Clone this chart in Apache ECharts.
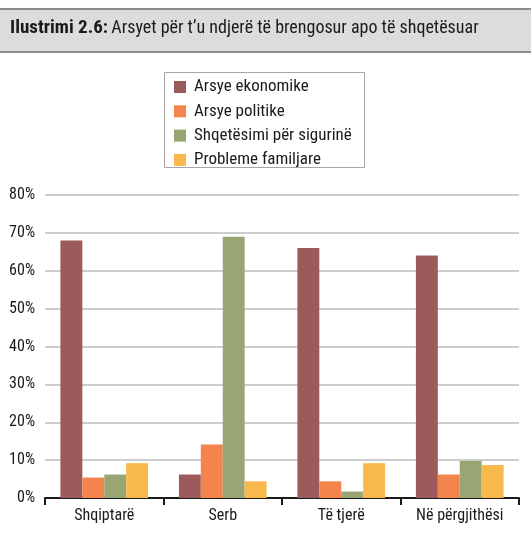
<!DOCTYPE html>
<html>
<head>
<meta charset="utf-8">
<script src="https://cdn.jsdelivr.net/npm/echarts@6/dist/echarts.min.js"></script>
<style>
  html, body { margin: 0; padding: 0; background: #fff; }
  #chart { width: 531px; height: 556px; }
</style>
</head>
<body>
<div id="chart"></div>
<script>
  // categories and series values (percent)
  var categories = ['Shqiptarë', 'Serb', 'Të tjerë', 'Në përgjithësi'];
  var seriesNames = ['Arsye ekonomike', 'Arsye politike', 'Shqetësimi për sigurinë', 'Probleme familjare'];
  var ekonomike = [68, 6.2, 66, 64];
  var politike = [5.4, 14.1, 4.4, 6.2];
  var siguria = [6.2, 69, 1.7, 9.8];
  var familjare = [9.2, 4.4, 9.2, 8.7];
  var colors = ['#9c5b5b', '#f2844c', '#98a673', '#f9b84b'];

  var font = "'Roboto Condensed', 'DejaVu Sans Condensed', sans-serif";

  var myChart = echarts.init(document.getElementById('chart'));

  var allData = [ekonomike, politike, siguria, familjare];
  var series = [];
  for (var i = 0; i < seriesNames.length; i++) {
    series.push({
      name: seriesNames[i],
      type: 'bar',
      data: allData[i],
      barGap: '0%',
      barCategoryGap: '26%',
      itemStyle: { color: colors[i] }
    });
  }

  var option = {
    animation: false,
    color: colors,
    textStyle: { fontFamily: font },
    graphic: [
      // title bar
      { type: 'rect', shape: { x: 0, y: 9, width: 531, height: 43 },
        style: { fill: '#dcdcdd' } },
      { type: 'rect', shape: { x: 0, y: 8, width: 531, height: 2 },
        style: { fill: '#8c8c8c' } },
      { type: 'rect', shape: { x: 0, y: 51, width: 531, height: 2 },
        style: { fill: '#8c8c8c' } },
      { type: 'text', left: 10, top: 19,
        style: {
          text: '{b|Ilustrimi 2.6:} {n|Arsyet për t’u ndjerë të brengosur apo të shqetësuar}',
          rich: {
            b: { fontFamily: font, fontSize: 19, fontWeight: 'bold', fill: '#1a1a1a' },
            n: { fontFamily: font, fontSize: 18, fill: '#1a1a1a' }
          }
        } },
      // legend frame
      { type: 'rect', shape: { x: 164.5, y: 72.5, width: 200, height: 95 },
        style: { fill: 'none', stroke: '#a6a6a6', lineWidth: 1 } }
    ],
    legend: {
      data: seriesNames,
      orient: 'vertical',
      left: 174,
      top: 78,
      padding: 0,
      itemGap: 6.3,
      itemWidth: 12,
      itemHeight: 12,
      icon: 'rect',
      textStyle: { fontFamily: font, fontSize: 17, lineHeight: 18, color: '#1a1a1a', padding: [0, 0, 0, 3] }
    },
    grid: {
      left: 45,
      right: 12,
      top: 195,
      bottom: 58,
      containLabel: false
    },
    xAxis: {
      type: 'category',
      data: categories,
      axisLine: { lineStyle: { color: '#1a1a1a', width: 2 } },
      axisTick: { show: true, length: 7, lineStyle: { color: '#1a1a1a', width: 2 } },
      axisLabel: { interval: 0, fontFamily: font, fontSize: 16, color: '#1a1a1a', margin: 10 }
    },
    yAxis: {
      type: 'value',
      min: 0,
      max: 80,
      interval: 10,
      axisLine: { show: false },
      axisTick: { show: false },
      axisLabel: { fontFamily: font, fontSize: 16, color: '#1a1a1a', margin: 10,
        formatter: '{value}%' },
      splitLine: { lineStyle: { color: '#bdbdbd', width: 1.5 } }
    },
    series: series
  };

  myChart.setOption(option);
</script>
</body>
</html>
